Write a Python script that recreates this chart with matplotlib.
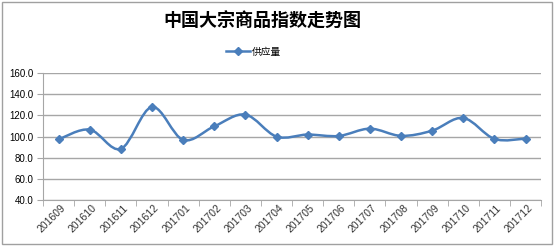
import numpy as np
import matplotlib
matplotlib.use("Agg")
from matplotlib import pyplot as plt
from matplotlib.path import Path
from matplotlib.patches import PathPatch, Rectangle
from matplotlib.lines import Line2D
import matplotlib.transforms as mtransforms

plt.rcParams['font.family'] = ['Liberation Sans', 'Noto Sans CJK SC']

months = ['201609', '201610', '201611', '201612', '201701', '201702', '201703', '201704',
          '201705', '201706', '201707', '201708', '201709', '201710', '201711', '201712']
supply = [97.4, 106.6, 88.4, 128.0, 96.9, 109.7, 120.8, 100.0,
          101.9, 100.6, 107.5, 100.7, 105.6, 117.6, 97.8, 98.1]
yticks = [40, 60, 80, 100, 120, 140, 160]
title = '中国大宗商品指数走势图'
series_name = '供应量'

blue = '#4a7ebb'
grey = '#a6a6a6'

fig = plt.figure(figsize=(5.55, 2.47), dpi=100)
fig.patches.append(Rectangle((0.004, 0.012), 0.991, 0.98, transform=fig.transFigure,
                             fill=False, ec='#a0a0a0', lw=1))
ax = fig.add_axes([0.0775, 0.19, 0.8975, 0.514])

x = np.arange(len(months))
y = np.array(supply)

# smoothed line like excel: cubic bezier through the points
verts = [(x[0], y[0])]
codes = [Path.MOVETO]
n = len(x)
for i in range(n - 1):
    p0 = np.array([x[max(i - 1, 0)], y[max(i - 1, 0)]])
    p1 = np.array([x[i], y[i]])
    p2 = np.array([x[i + 1], y[i + 1]])
    p3 = np.array([x[min(i + 2, n - 1)], y[min(i + 2, n - 1)]])
    c1 = p1 + (p2 - p0) / 6
    c2 = p2 - (p3 - p1) / 6
    verts += [tuple(c1), tuple(c2), tuple(p2)]
    codes += [Path.CURVE4] * 3
ax.add_patch(PathPatch(Path(verts, codes), fill=False, ec=blue, lw=1.8, zorder=3))
ax.plot(x, y, ls='none', marker='D', ms=4.5, color=blue, zorder=4)

ax.set_xlim(-0.5, len(months) - 0.5)
ax.set_ylim(40, 160)
ax.set_yticks(yticks)
ax.set_yticklabels(['%.1f' % v for v in yticks], fontsize=7)
ax.yaxis.grid(True, color=grey, lw=1)
ax.set_axisbelow(True)

ax.set_xticks(x)
ax.set_xticklabels(months, fontsize=7.5, rotation=45, ha='right', color='#333333')
ax.set_xticks(np.arange(-0.5, len(months)), minor=True)
ax.tick_params(axis='x', which='major', length=0, pad=2)
ax.tick_params(axis='x', which='minor', length=4, color=grey)
ax.tick_params(axis='y', length=4, color=grey, pad=3)
offset = mtransforms.ScaledTranslation(9 / 100, 0, fig.dpi_scale_trans)
for lab in ax.get_xticklabels():
    lab.set_transform(lab.get_transform() + offset)

for s in ['top', 'right']:
    ax.spines[s].set_visible(False)
for s in ['left', 'bottom']:
    ax.spines[s].set_color(grey)

fig.text(0.472, 0.915, title, ha='center', va='center', fontsize=13, fontweight='bold',
         family=['Noto Sans CJK SC'])
handle = Line2D([], [], color=blue, lw=1.8, marker='D', ms=4.5)
fig.legend([handle], [series_name], loc='center', bbox_to_anchor=(0.457, 0.79),
           frameon=False, fontsize=7, handlelength=2.5, handletextpad=0.2)

fig.savefig('out.png', dpi=100)
